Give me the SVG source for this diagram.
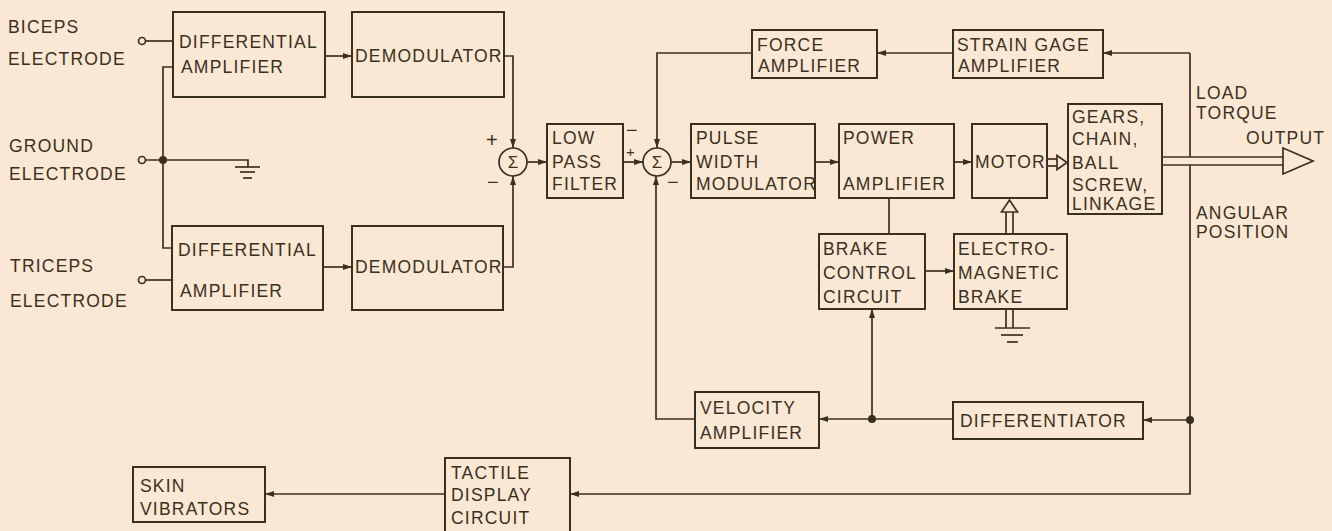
<svg xmlns="http://www.w3.org/2000/svg" width="1332" height="531" viewBox="0 0 1332 531">
<defs>
<style>
.bx{fill:none;stroke:#3a3020;stroke-width:2}
.ln{fill:none;stroke:#3a3020;stroke-width:1.7}
.ar{fill:none;stroke:#3a3020;stroke-width:1.7;marker-end:url(#ah)}
.hol{fill:#fbe8d4;stroke:#3a3020;stroke-width:1.7}
text{font-family:"Liberation Sans",Arial,sans-serif;font-size:17.5px;fill:#3a3020;letter-spacing:1.2px}
.sg{font-size:20px;letter-spacing:0}
.sp{font-size:15px;letter-spacing:0}
.sig{font-size:17px;letter-spacing:0;text-anchor:middle}
</style>
<marker id="ah" viewBox="0 0 9 6" refX="9" refY="3" markerWidth="9" markerHeight="6" markerUnits="userSpaceOnUse" orient="auto">
<path d="M0,0 L9,3 L0,6 z" fill="#3a3020"/>
</marker>
</defs>
<rect x="0" y="0" width="1332" height="531" fill="#fbe8d4"/>

<g id="labels">
<text x="8" y="33">BICEPS</text>
<text x="8" y="65">ELECTRODE</text>
<text x="9" y="152">GROUND</text>
<text x="9" y="180">ELECTRODE</text>
<text x="10" y="272">TRICEPS</text>
<text x="10" y="307">ELECTRODE</text>
<text x="1196" y="99">LOAD</text>
<text x="1196" y="119">TORQUE</text>
<text x="1246" y="144">OUTPUT</text>
<text x="1196" y="219">ANGULAR</text>
<text x="1196" y="238">POSITION</text>
</g>

<g id="connectors">
<circle cx="142" cy="41" r="3.5" class="ln"/>
<line x1="145.5" y1="41" x2="173" y2="41" class="ln"/>
<circle cx="142" cy="160" r="3.5" class="ln"/>
<polyline points="145.5,160 248,160 248,167" class="ln"/>
<line x1="235" y1="167" x2="260" y2="167" class="ln"/>
<line x1="240" y1="172" x2="255" y2="172" class="ln"/>
<line x1="243" y1="178" x2="252" y2="178" class="ln"/>
<polyline points="173,67 163,67 163,248 172,248" class="ln"/>
<circle cx="163" cy="160" r="4" fill="#3a3020"/>
<circle cx="142" cy="280" r="3.5" class="ln"/>
<line x1="145.5" y1="280" x2="172" y2="280" class="ln"/>
<line x1="325" y1="56" x2="352" y2="56" class="ar"/>
<line x1="323" y1="267" x2="352" y2="267" class="ar"/>
<polyline points="504,56 513,56 513,148" class="ar"/>
<polyline points="503,267 513,267 513,176" class="ar"/>
<line x1="527" y1="162" x2="547" y2="162" class="ar"/>
<line x1="623" y1="162" x2="643" y2="162" class="ar"/>
<line x1="671" y1="162" x2="691" y2="162" class="ar"/>
<line x1="815" y1="162" x2="839" y2="162" class="ar"/>
<line x1="954" y1="162" x2="972" y2="162" class="ar"/>
<polyline points="1190,53 1103,53" class="ar"/>
<line x1="953" y1="53" x2="877" y2="53" class="ar"/>
<polyline points="752,53 657,53 657,148" class="ar"/>
<polyline points="1190,53 1190,494 570,494" class="ar"/>
<line x1="1190" y1="420" x2="1143" y2="420" class="ar"/>
<circle cx="1190" cy="420" r="4" fill="#3a3020"/>
<line x1="953" y1="419" x2="819" y2="419" class="ar"/>
<circle cx="872" cy="419" r="4" fill="#3a3020"/>
<line x1="872" y1="419" x2="872" y2="309" class="ar"/>
<polyline points="695,419 656,419 656,176" class="ar"/>
<line x1="445" y1="494" x2="265" y2="494" class="ar"/>
<line x1="889" y1="198" x2="889" y2="234" class="ln"/>
<line x1="925" y1="271" x2="954" y2="271" class="ar"/>
<line x1="1006" y1="234" x2="1006" y2="212" class="ln"/>
<line x1="1013" y1="234" x2="1013" y2="212" class="ln"/>
<polygon points="1001.5,212 1009.5,200 1017.5,212" class="hol"/>
<line x1="1006" y1="309" x2="1006" y2="328" class="ln"/>
<line x1="1013" y1="309" x2="1013" y2="328" class="ln"/>
<line x1="995" y1="328" x2="1030" y2="328" class="ln"/>
<line x1="1001" y1="335" x2="1023" y2="335" class="ln"/>
<line x1="1007" y1="342" x2="1018" y2="342" class="ln"/>
<line x1="1047" y1="159" x2="1057" y2="159" class="ln"/>
<line x1="1047" y1="166" x2="1057" y2="166" class="ln"/>
<polygon points="1057,155.5 1067,162.5 1057,169.5" class="hol"/>
<rect x="1162" y="157" width="121" height="8" fill="#fbe8d4" stroke="none"/>
<line x1="1162" y1="157" x2="1283" y2="157" class="ln"/>
<line x1="1162" y1="165" x2="1283" y2="165" class="ln"/>
<polygon points="1283,148 1313,161 1283,174" class="hol"/>
</g>

<g id="sum1">
<circle cx="513" cy="162" r="14" class="ln"/>
<text x="513" y="168" class="sig">Σ</text>
<text x="486" y="147" class="sg">+</text>
<text x="487" y="189" class="sg">−</text>
</g>
<g id="sum2">
<circle cx="657" cy="162" r="14" class="ln"/>
<text x="657" y="168" class="sig">Σ</text>
<text x="626" y="137" class="sg">−</text>
<text x="626" y="157" class="sp">+</text>
<text x="667" y="189" class="sg">−</text>
</g>

<g id="diffamp1"><rect x="173" y="12" width="152" height="85" class="bx"/>
<text x="179" y="48">DIFFERENTIAL</text><text x="181" y="73">AMPLIFIER</text></g>
<g id="demod1"><rect x="352" y="12" width="152" height="85" class="bx"/>
<text x="355" y="62">DEMODULATOR</text></g>
<g id="diffamp2"><rect x="172" y="226" width="151" height="84" class="bx"/>
<text x="178" y="256">DIFFERENTIAL</text><text x="180" y="297">AMPLIFIER</text></g>
<g id="demod2"><rect x="352" y="226" width="151" height="84" class="bx"/>
<text x="355" y="273">DEMODULATOR</text></g>
<g id="lpf"><rect x="547" y="124" width="76" height="74" class="bx"/>
<text x="552" y="144">LOW</text><text x="552" y="168">PASS</text><text x="552" y="190">FILTER</text></g>
<g id="pwm"><rect x="691" y="124" width="124" height="74" class="bx"/>
<text x="696" y="144">PULSE</text><text x="696" y="168">WIDTH</text><text x="696" y="190">MODULATOR</text></g>
<g id="forceamp"><rect x="752" y="30" width="125" height="48" class="bx"/>
<text x="757" y="51">FORCE</text><text x="758" y="72">AMPLIFIER</text></g>
<g id="straingage"><rect x="953" y="30" width="150" height="48" class="bx"/>
<text x="957" y="51">STRAIN GAGE</text><text x="958" y="72">AMPLIFIER</text></g>
<g id="poweramp"><rect x="839" y="124" width="115" height="74" class="bx"/>
<text x="843" y="144">POWER</text><text x="843" y="190">AMPLIFIER</text></g>
<g id="motor"><rect x="972" y="124" width="75" height="74" class="bx"/>
<text x="975" y="168">MOTOR</text></g>
<g id="gears"><rect x="1068" y="104" width="94" height="110" class="bx"/>
<text x="1072" y="123">GEARS,</text><text x="1072" y="145">CHAIN,</text><text x="1072" y="169">BALL</text><text x="1072" y="191">SCREW,</text><text x="1072" y="210">LINKAGE</text></g>
<g id="brakecontrol"><rect x="819" y="234" width="106" height="75" class="bx"/>
<text x="823" y="255">BRAKE</text><text x="823" y="279">CONTROL</text><text x="823" y="303">CIRCUIT</text></g>
<g id="embrake"><rect x="954" y="234" width="113" height="75" class="bx"/>
<text x="958" y="255">ELECTRO-</text><text x="958" y="279">MAGNETIC</text><text x="958" y="303">BRAKE</text></g>
<g id="velamp"><rect x="695" y="392" width="124" height="56" class="bx"/>
<text x="700" y="414">VELOCITY</text><text x="700" y="439">AMPLIFIER</text></g>
<g id="differentiator"><rect x="953" y="402" width="190" height="37" class="bx"/>
<text x="960" y="427">DIFFERENTIATOR</text></g>
<g id="tactile"><rect x="445" y="458" width="125" height="80" class="bx"/>
<text x="451" y="479">TACTILE</text><text x="451" y="501">DISPLAY</text><text x="451" y="524">CIRCUIT</text></g>
<g id="skin"><rect x="133" y="467" width="132" height="55" class="bx"/>
<text x="140" y="492">SKIN</text><text x="140" y="515">VIBRATORS</text></g>
</svg>
